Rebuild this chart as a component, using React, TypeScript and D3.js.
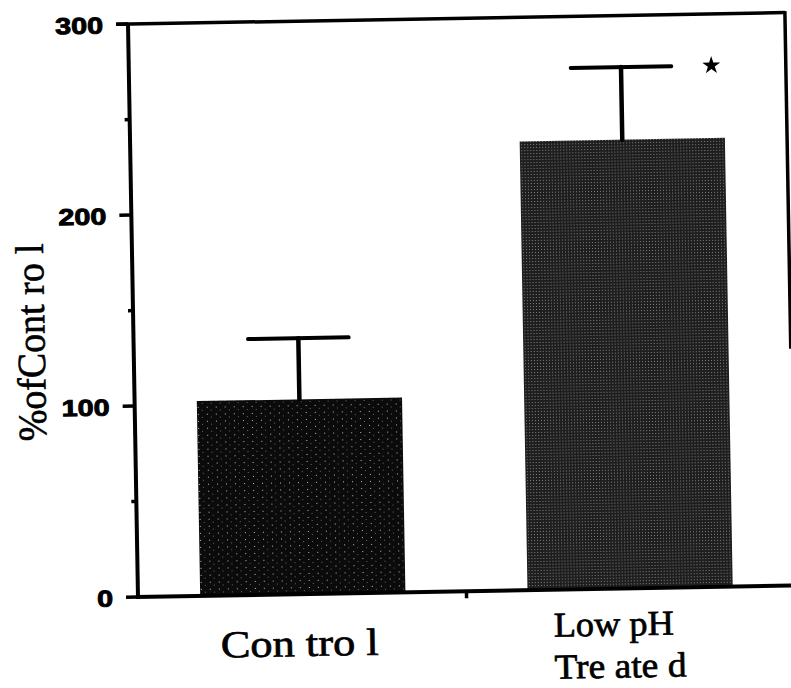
import React from "react";
import * as d3 from "d3";

const categories = ["Control", "Low pH"];
const labelLines = [["Con tro l"], ["Low pH", "Tre ate d"]];
const means = [102, 235];
const sems = [32, 38];
const yTicks = [0, 100, 200, 300];
const yMinorTicks = [50, 150, 250];
const yLabel = "%ofCont ro l";
const significance = ["", "*"];

const W = 791;
const H = 688;

export default function App() {
  const y = d3.scaleLinear().domain([0, 300]).range([597, 24]);
  const x = d3
    .scaleBand<string>()
    .domain(categories)
    .range([138, 795])
    .paddingInner(0.373)
    .paddingOuter(0.19);
  const bw = x.bandwidth();
  const x0 = x.range()[0];
  const x1 = x.range()[1];
  const serif = "'Liberation Serif', 'Times New Roman', serif";
  const sans = "'Liberation Sans', Arial, sans-serif";
  const fills = ["url(#stipA)", "url(#stipB)"];
  const mid = (x(categories[0])! + bw + x(categories[1])!) / 2;
  const star = d3.symbol().type(d3.symbolStar).size(100)();

  return (
    <svg
      width={W}
      height={H}
      style={{ position: "absolute", left: 0, top: 0, background: "#fff" }}
    >
      <defs>
        <pattern id="stipA" width="9" height="7" patternUnits="userSpaceOnUse">
          <rect width="9" height="7" fill="#0b0b0b" />
          <rect x="3" y="2" width="1" height="1" fill="#bbb" />
          <rect x="7" y="5" width="1" height="1" fill="#666" />
        </pattern>
        <pattern id="stipB" width="3" height="3" patternUnits="userSpaceOnUse">
          <rect width="3" height="3" fill="#1e1e1e" />
          <rect x="1" y="1" width="1" height="1" fill="#808080" />
        </pattern>
      </defs>
      <g transform="rotate(-1, 138, 597)">
        {/* bars */}
        {categories.map((c, i) => (
          <rect
            key={c}
            x={x(c)}
            y={y(means[i])}
            width={bw}
            height={y(0) - y(means[i])}
            fill={fills[i]}
          />
        ))}
        {/* error bars */}
        {categories.map((c, i) => {
          const cx = x(c)! + bw / 2;
          const top = y(means[i] + sems[i]);
          return (
            <g key={c + "e"} stroke="#000" strokeLinecap="round">
              <line x1={cx} x2={cx} y1={y(means[i])} y2={top} strokeWidth={4.5} />
              <line x1={cx - bw * 0.245} x2={cx + bw * 0.245} y1={top} y2={top} strokeWidth={4} />
            </g>
          );
        })}
        {/* significance */}
        {categories.map((c, i) =>
          significance[i] ? (
            <path
              key={c + "s"}
              d={star!}
              transform={`translate(${x(c)! + bw * 0.94},${y(means[i] + sems[i])})`}
              fill="#000"
            />
          ) : null
        )}
        {/* frame */}
        <line x1={x0 - 12} x2={x1} y1={y(300)} y2={y(300)} stroke="#000" strokeWidth={3.5} />
        <line x1={x1} x2={x1} y1={y(300) - 1.5} y2={y(124)} stroke="#000" strokeWidth={3.5} />
        {/* y axis */}
        <line x1={x0} x2={x0} y1={y(0) + 2} y2={y(300)} stroke="#000" strokeWidth={4} />
        {yTicks.map((t) => (
          <g key={t}>
            <line x1={x0 - 12} x2={x0} y1={y(t)} y2={y(t)} stroke="#000" strokeWidth={3.5} />
            <text
              x={x0 - 25}
              y={y(t) + 1}
              textAnchor="end"
              dominantBaseline="central"
              fontFamily={sans}
              fontWeight="bold"
              fontSize={23}
              stroke="#000"
              strokeWidth={0.9}
              textLength={String(t).length * 16}
              lengthAdjust="spacingAndGlyphs"
            >
              {t}
            </text>
          </g>
        ))}
        {yMinorTicks.map((t) => (
          <line key={t} x1={x0 - 5} x2={x0} y1={y(t)} y2={y(t)} stroke="#000" strokeWidth={3.5} />
        ))}
        {/* x axis */}
        <line x1={x0 - 2} x2={W + 20} y1={y(0)} y2={y(0)} stroke="#000" strokeWidth={4} />
        <line x1={mid} x2={mid} y1={y(0)} y2={y(0) + 7} stroke="#000" strokeWidth={3.5} />
        {/* x labels */}
        <text
          x={x(categories[0])! + bw / 2 - 4}
          y={y(0) + 62}
          textAnchor="middle"
          fontFamily={serif}
          fontSize={38}
          stroke="#000"
          strokeWidth={0.7}
          textLength={158}
          lengthAdjust="spacingAndGlyphs"
        >
          {labelLines[0][0]}
        </text>
        <text
          x={x(categories[1])! + bw / 2 - 77}
          y={y(0) + 47}
          textAnchor="start"
          fontFamily={serif}
          fontSize={35}
          stroke="#000"
          strokeWidth={0.7}
          textLength={120}
          lengthAdjust="spacingAndGlyphs"
        >
          {labelLines[1][0]}
        </text>
        <text
          x={x(categories[1])! + bw / 2 - 77}
          y={y(0) + 89}
          textAnchor="start"
          fontFamily={serif}
          fontSize={35}
          stroke="#000"
          strokeWidth={0.7}
          textLength={132}
          lengthAdjust="spacingAndGlyphs"
        >
          {labelLines[1][1]}
        </text>
        {/* y label */}
        <text
          transform={`translate(49,${(y(0) + y(300)) / 2 + 30}) rotate(-90)`}
          textAnchor="middle"
          fontFamily={serif}
          fontSize={40}
          stroke="#000"
          strokeWidth={0.6}
          textLength={198}
          lengthAdjust="spacingAndGlyphs"
        >
          {yLabel}
        </text>
      </g>
    </svg>
  );
}
